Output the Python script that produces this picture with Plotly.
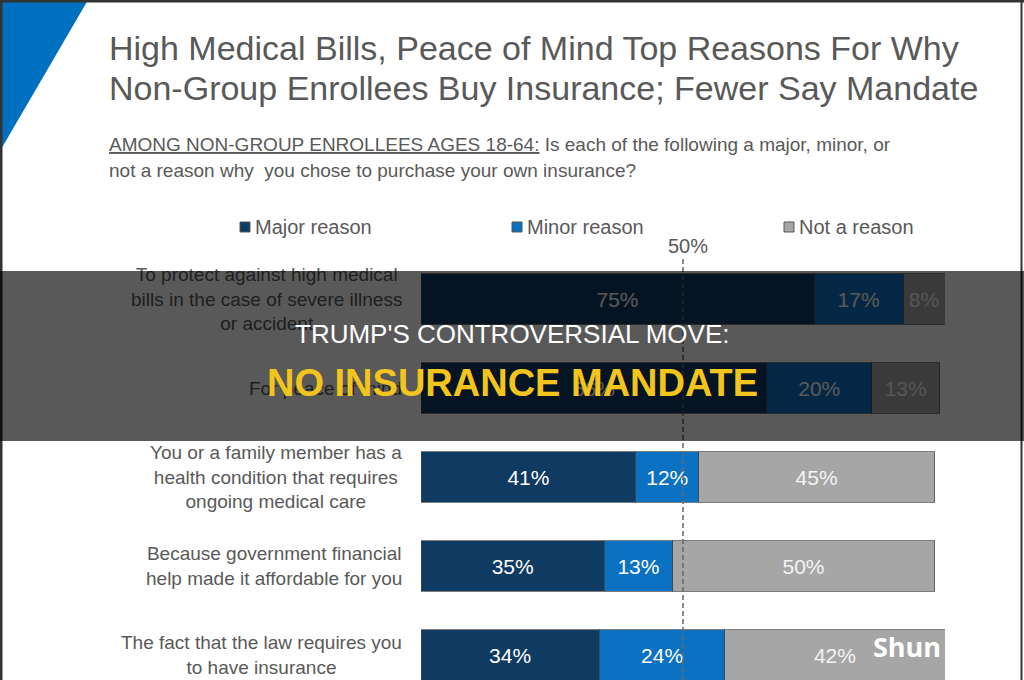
import plotly.graph_objects as go

# ---------------- data ----------------
categories = [
    "To protect against high medical<br>bills in the case of severe illness<br>or accident",
    "For peace of mind",
    "You or a family member has a<br>health condition that requires<br>ongoing medical care",
    "Because government financial<br>help made it affordable for you",
    "The fact that the law requires you<br>to have insurance",
]
major = [75, 66, 41, 35, 34]
minor = [17, 20, 12, 13, 24]
not_reason = [8, 13, 45, 50, 42]
series_names = ["Major reason", "Minor reason", "Not a reason"]
series_values = [major, minor, not_reason]
series_colors = ["#0f3a62", "#0b71c2", "#a6a6a6"]
text_colors = ["#ffffff", "#ffffff", "#f4f4f4"]
ref_line_value = 50

title_lines = [
    "High Medical Bills, Peace of Mind Top Reasons For Why",
    "Non-Group Enrollees Buy Insurance; Fewer Say Mandate",
]
subtitle_lines = [
    "<u>AMONG NON-GROUP ENROLLEES AGES 18-64:</u> Is each of the following a major, minor, or",
    "not a reason why  you chose to purchase your own insurance?",
]
overlay_line1 = "TRUMP'S CONTROVERSIAL MOVE:"
overlay_line2 = "NO INSURANCE MANDATE"
watermark = "Shun"

W, H = 1024, 680
FONT = "Liberation Sans, Arial, sans-serif"
GRAY = "#595959"


def px(x):
    return x / W


def py(y):
    return 1 - y / H


fig = go.Figure()
for name, vals, col, tcol in zip(series_names, series_values, series_colors, text_colors):
    fig.add_trace(go.Bar(
        y=categories, x=vals, name=name, orientation="h",
        marker=dict(color=col, line=dict(color="rgba(70,70,70,0.7)", width=1)),
        width=0.57,
        text=[f"{v}%" for v in vals], textposition="inside",
        insidetextanchor="middle",
        textfont=dict(family=FONT, size=21, color=tcol),
        hoverinfo="skip",
    ))

# category rows: centre of row 0 at pixel 299, spacing 89 px
row0, step = 299, 89
y_top = -row0 / step
y_bot = (H - row0) / step

fig.update_layout(
    width=W, height=H,
    margin=dict(l=0, r=0, t=0, b=0),
    paper_bgcolor="white", plot_bgcolor="white",
    barmode="stack", showlegend=False,
    xaxis=dict(range=[0, 100], domain=[px(421), px(945)], visible=False, fixedrange=True),
    yaxis=dict(type="category", categoryorder="array", categoryarray=categories,
               range=[y_bot, y_top], domain=[0, 1], visible=False, fixedrange=True),
    font=dict(family=FONT, color=GRAY),
)

shapes = []
# blue corner triangle
shapes.append(dict(type="path", xref="paper", yref="paper",
                   path=f"M 0 1 L {px(88)} 1 L 0 {py(151)} Z",
                   fillcolor="#0070c0", line=dict(width=0), layer="above"))
# 50% dashed line
shapes.append(dict(type="line", xref="x", yref="paper",
                   x0=ref_line_value, x1=ref_line_value, y0=0, y1=py(257),
                   line=dict(color="#666666", width=1.5, dash="5px,3px"), layer="above"))
# legend squares
legend_x = [240, 512, 784]
for lx, col in zip(legend_x, series_colors):
    shapes.append(dict(type="rect", xref="paper", yref="paper",
                       x0=px(lx), x1=px(lx + 10), y0=py(232), y1=py(222),
                       fillcolor=col, line=dict(color="#555555", width=1), layer="above"))
# frame borders
shapes.append(dict(type="line", xref="paper", yref="paper", x0=0, x1=1, y0=py(1), y1=py(1),
                   line=dict(color="#333333", width=3), layer="above"))
shapes.append(dict(type="line", xref="paper", yref="paper", x0=px(1), x1=px(1), y0=0, y1=1,
                   line=dict(color="#333333", width=3), layer="above"))
shapes.append(dict(type="line", xref="paper", yref="paper", x0=px(1021.5), x1=px(1021.5), y0=0, y1=1,
                   line=dict(color="#333333", width=2), layer="above"))

ann = []
# titles
for i, t in enumerate(title_lines):
    ann.append(dict(text=t, x=px(107), y=py(48 + 40 * i), xref="paper", yref="paper",
                    xanchor="left", yanchor="middle", showarrow=False,
                    font=dict(family=FONT, size=34, color=GRAY)))
for i, t in enumerate(subtitle_lines):
    ann.append(dict(text=t, x=px(107), y=py(144 + 26 * i), xref="paper", yref="paper",
                    xanchor="left", yanchor="middle", showarrow=False,
                    font=dict(family=FONT, size=19, color=GRAY)))
# legend labels
for lx, name in zip(legend_x, series_names):
    ann.append(dict(text=name, x=px(lx + 13), y=py(227), xref="paper", yref="paper",
                    xanchor="left", yanchor="middle", showarrow=False,
                    font=dict(family=FONT, size=20, color=GRAY)))
# 50% label
ann.append(dict(text=f"{ref_line_value}%", x=ref_line_value, xref="x", y=py(246), yref="paper",
                xanchor="center", yanchor="middle", showarrow=False, xshift=5,
                font=dict(family=FONT, size=20, color=GRAY)))
# category labels
for c in categories:
    ann.append(dict(text=c, x=px(404), xref="paper", y=c, yref="y",
                    xanchor="right", yanchor="middle", align="center", showarrow=False,
                    font=dict(family=FONT, size=19, color=GRAY)))
# dark overlay band
ann.append(dict(text=" ", x=0.5, y=py(356), xref="paper", yref="paper",
                xanchor="center", yanchor="middle", showarrow=False,
                width=W, height=170, bgcolor="rgba(0,0,0,0.65)", borderpad=0, borderwidth=0))
ann.append(dict(text=overlay_line1, x=px(512), y=py(334), xref="paper", yref="paper",
                xanchor="center", yanchor="middle", showarrow=False,
                font=dict(family=FONT, size=26, color="white")))
ann.append(dict(text=f"<b>{overlay_line2}</b>", x=px(512), y=py(383), xref="paper", yref="paper",
                xanchor="center", yanchor="middle", showarrow=False,
                font=dict(family=FONT, size=38, color="#f3c51c")))
ann.append(dict(text=f"<b>{watermark}</b>", x=px(907), y=py(646), xref="paper", yref="paper",
                xanchor="center", yanchor="middle", showarrow=False,
                font=dict(family="Open Sans, sans-serif", size=27, color="white")))

fig.update_layout(shapes=shapes, annotations=ann)
fig.write_html("out.html")
